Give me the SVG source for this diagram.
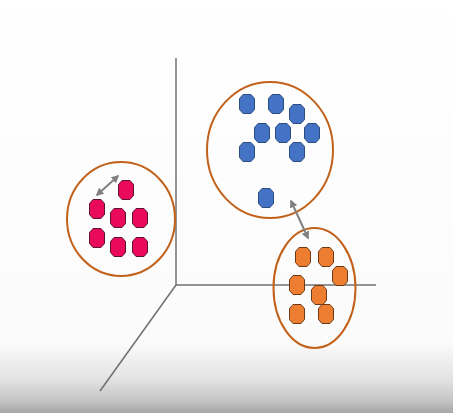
<svg xmlns="http://www.w3.org/2000/svg" xmlns:xlink="http://www.w3.org/1999/xlink" width="453" height="413" viewBox="0 0 453 413">
  <defs>
    <linearGradient id="bg" x1="0" y1="0" x2="0" y2="1">
      <stop offset="0" stop-color="#ffffff"/>
      <stop offset="0.83" stop-color="#fbfbfb"/>
      <stop offset="0.92" stop-color="#e2e2e2"/>
      <stop offset="0.97" stop-color="#c4c4c4"/>
      <stop offset="1" stop-color="#a6a6a6"/>
    </linearGradient>
    <path id="dot" d="M-4,-9.5 L4,-9.5 L7.5,-5.5 L7.5,5.5 L4,9.5 L-4,9.5 L-7.5,5.5 L-7.5,-5.5 Z"/>
    <marker id="ah" viewBox="0 0 10 10" refX="8" refY="5" markerWidth="4" markerHeight="4" orient="auto-start-reverse" markerUnits="strokeWidth">
      <path d="M0,0 L10,5 L0,10 Z" fill="#808080"/>
    </marker>
    <style>
      .axis { stroke:#707070; stroke-width:1.5; fill:none; }
      .ring { fill:none; stroke:#c2611a; stroke-width:2; }
      .red use { fill:#ea0a5c; stroke:#5c1230; stroke-width:1; stroke-linejoin:round; }
      .blue use { fill:#4472c4; stroke:#2c4c82; stroke-width:1; stroke-linejoin:round; }
      .orange use { fill:#ed7d31; stroke:#6e3a14; stroke-width:1; stroke-linejoin:round; }
      .conn { stroke:#808080; stroke-width:2; fill:none; marker-start:url(#ah); marker-end:url(#ah); }
    </style>
  </defs>
  <rect width="453" height="413" fill="url(#bg)"/>
  <g id="axes">
    <line class="axis" x1="176" y1="58" x2="176" y2="285"/>
    <line class="axis" x1="176" y1="285" x2="376" y2="285"/>
    <line class="axis" x1="176" y1="285" x2="100" y2="391"/>
  </g>
  <g id="cluster-red" class="red">
    <ellipse class="ring" cx="121" cy="219" rx="54" ry="57"/>
    <use xlink:href="#dot" x="126" y="190"/>
    <use xlink:href="#dot" x="97" y="209"/>
    <use xlink:href="#dot" x="118" y="218"/>
    <use xlink:href="#dot" x="140" y="218"/>
    <use xlink:href="#dot" x="97" y="238"/>
    <use xlink:href="#dot" x="118" y="247"/>
    <use xlink:href="#dot" x="140" y="247"/>
  </g>
  <g id="cluster-blue" class="blue">
    <ellipse class="ring" cx="270" cy="150" rx="63" ry="68"/>
    <use xlink:href="#dot" x="247" y="104"/>
    <use xlink:href="#dot" x="276" y="104"/>
    <use xlink:href="#dot" x="297" y="114"/>
    <use xlink:href="#dot" x="262" y="133"/>
    <use xlink:href="#dot" x="283" y="133"/>
    <use xlink:href="#dot" x="312" y="133"/>
    <use xlink:href="#dot" x="247" y="152"/>
    <use xlink:href="#dot" x="297" y="152"/>
    <use xlink:href="#dot" x="266" y="198"/>
  </g>
  <g id="cluster-orange" class="orange">
    <ellipse class="ring" cx="314.5" cy="288" rx="41" ry="60"/>
    <use xlink:href="#dot" x="303" y="257"/>
    <use xlink:href="#dot" x="326" y="257"/>
    <use xlink:href="#dot" x="340" y="276"/>
    <use xlink:href="#dot" x="297" y="285"/>
    <use xlink:href="#dot" x="319" y="295"/>
    <use xlink:href="#dot" x="297" y="314"/>
    <use xlink:href="#dot" x="326" y="314"/>
  </g>
  <g id="connectors">
    <line class="conn" x1="97" y1="195" x2="118" y2="176"/>
    <line class="conn" x1="291" y1="201" x2="308" y2="238"/>
  </g>
</svg>
